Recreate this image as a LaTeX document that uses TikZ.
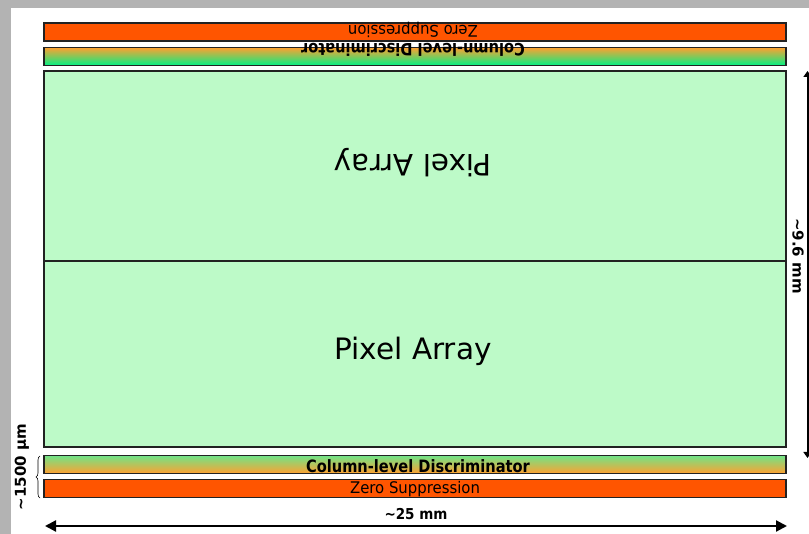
\documentclass[tikz,border=0pt]{standalone}
\usepackage{fontspec}
\setmainfont{DejaVu Sans}
\usetikzlibrary{arrows.meta,decorations.pathreplacing}
\definecolor{framegray}{HTML}{B3B3B3}
\definecolor{edge}{HTML}{222222}
\definecolor{pixfill}{HTML}{BDFAC8}
\definecolor{zsorange}{HTML}{FF5500}
\definecolor{gorange}{HTML}{FFA030}
\definecolor{gmidT}{HTML}{B8D890}
\definecolor{ggreen}{HTML}{00F285}
\definecolor{gtopB}{HTML}{70E488}
\definecolor{gmidB}{HTML}{E8B458}
\tikzset{
  bar/.style={draw=edge, line width=1.5pt, minimum width=742pt, inner sep=0pt, outer sep=0pt},
  zsbar/.style={bar, fill=zsorange, minimum height=18pt},
  cdbarT/.style={bar, top color=gorange, middle color=gmidT, bottom color=ggreen, minimum height=18pt},
  cdbarB/.style={bar, top color=gtopB, middle color=gmidB, bottom color=gorange, minimum height=18pt},
  pixbox/.style={bar, fill=pixfill},
  pixtext/.style={font=\fontsize{29.5}{32}\selectfont, inner sep=0pt},
  cdtext/.style={font=\bfseries\fontsize{17}{19}\selectfont, xscale=0.86, inner sep=0pt},
  zstext/.style={font=\fontsize{16}{18}\selectfont, xscale=0.93, inner sep=0pt},
  dimtext/.style={font=\bfseries\fontsize{15}{17}\selectfont, inner sep=0pt},
  dimline/.style={line width=2.2pt, {Triangle[length=11pt,width=11pt]}-{Triangle[length=11pt,width=11pt]}},
}
\begin{document}
\begin{tikzpicture}[x=1pt,y=-1pt]
\useasboundingbox (0,0) rectangle (809,534);
\fill[framegray] (0,0) rectangle (809,534);
\fill[white] (11,8) rectangle (809,534);

% top (mirrored) half
\node[zsbar] (zsT) at (415,32) {};
\node[cdbarT] (cdT) at (415,56.5) {};
\node[pixbox, minimum height=190pt] (paT) at (415,166) {};
% bottom half
\node[pixbox, minimum height=186pt] (paB) at (415,354) {};
\node[cdbarB] (cdB) at (415,464.5) {};
\node[zsbar] (zsB) at (415,488.5) {};

% labels
\node[zstext, rotate=180] (zsTt) at (413,30) {Zero Suppression};
\node[cdtext, rotate=180] (cdTt) at (413,50) {Column-level Discriminator};
\node[pixtext, rotate=180] (paTt) at (413,163) {Pixel Array};
\node[pixtext] (paBt) at (413,351) {Pixel Array};
\node[cdtext] (cdBt) at (418,466) {Column-level Discriminator};
\node[zstext] (zsBt) at (415,489) {Zero Suppression};

% width dimension
\coordinate (wl) at (45,526);
\coordinate (wr) at (787,526);
\draw[dimline] (wl) -- (wr);
\node[dimtext, xscale=0.9] (wt) at (416,514) {\textasciitilde25 mm};

% height dimension (right)
\coordinate (ht) at (807.5,71);
\coordinate (hb) at (807.5,458);
\draw[line width=2pt, {Triangle[length=6pt,width=8pt]}-{Triangle[length=6pt,width=8pt]}] (ht) -- (hb);
\node[dimtext, rotate=-90] (htx) at (798,256) {\textasciitilde9.6 mm};

% bar-height brace (left)
\coordinate (bb) at (40,498);
\coordinate (bt) at (40,456);
\draw[line width=0.6pt, decorate, decoration={brace, amplitude=4pt}] (bb) -- (bt);
\node[dimtext, rotate=90] (bh) at (22,467) {\textasciitilde1500 μm};
\end{tikzpicture}
\end{document}
